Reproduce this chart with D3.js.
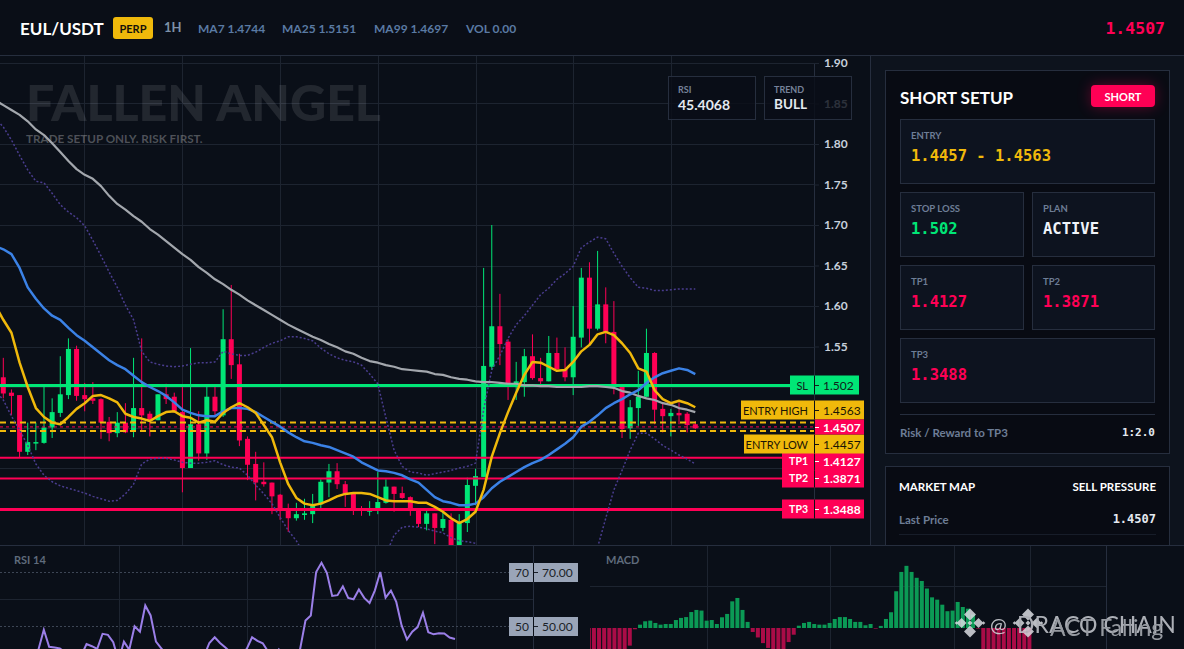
<!DOCTYPE html>
<html>
<head>
<meta charset="utf-8">
<script src="https://cdn.jsdelivr.net/npm/d3@7"></script>
<style>
    html, body { margin: 0; padding: 0; background: #0a0f18; overflow: hidden; }
    svg { display: block; font-family: Lato, "Noto Sans", sans-serif; }
    .mono { font-family: "DejaVu Sans Mono", monospace; font-weight: 700; }
</style>
</head>
<body>
<svg id="chart" width="1184" height="649"></svg>
<script>
const opens = [1.512,1.493,1.490,1.420,1.431,1.431,1.450,1.468,1.490,1.547,1.490,1.486,1.485,1.457,1.443,1.456,1.446,1.474,1.467,1.459,1.491,1.488,1.469,1.400,1.454,1.418,1.488,1.465,1.559,1.528,1.436,1.405,1.383,1.382,1.367,1.349,1.338,1.342,1.343,1.355,1.382,1.396,1.380,1.368,1.349,1.346,1.348,1.357,1.377,1.369,1.364,1.347,1.331,1.344,1.326,1.336,1.295,1.332,1.378,1.389,1.525,1.575,1.556,1.504,1.506,1.538,1.511,1.507,1.542,1.522,1.512,1.561,1.635,1.572,1.602,1.568,1.500,1.449,1.474,1.488,1.542,1.473,1.464,1.468,1.467,1.454];
const highs = [1.536,1.497,1.490,1.456,1.456,1.500,1.486,1.538,1.560,1.551,1.505,1.506,1.486,1.463,1.469,1.480,1.536,1.560,1.470,1.491,1.504,1.493,1.501,1.548,1.470,1.500,1.501,1.596,1.626,1.541,1.439,1.420,1.407,1.382,1.368,1.356,1.357,1.362,1.368,1.386,1.405,1.406,1.384,1.368,1.353,1.359,1.395,1.386,1.377,1.377,1.365,1.348,1.349,1.344,1.349,1.344,1.343,1.388,1.399,1.647,1.700,1.615,1.559,1.531,1.547,1.565,1.536,1.563,1.561,1.549,1.600,1.647,1.654,1.668,1.623,1.606,1.501,1.484,1.520,1.572,1.543,1.479,1.473,1.481,1.469,1.458];
const lows = [1.486,1.465,1.413,1.416,1.422,1.430,1.437,1.463,1.485,1.483,1.470,1.479,1.436,1.433,1.438,1.443,1.438,1.446,1.439,1.459,1.479,1.468,1.370,1.400,1.409,1.410,1.465,1.463,1.510,1.427,1.385,1.360,1.377,1.343,1.336,1.321,1.335,1.336,1.332,1.347,1.364,1.374,1.352,1.342,1.341,1.341,1.343,1.356,1.346,1.362,1.341,1.327,1.323,1.306,1.322,1.296,1.292,1.321,1.354,1.389,1.521,1.527,1.484,1.484,1.488,1.509,1.502,1.507,1.522,1.507,1.490,1.549,1.553,1.570,1.554,1.491,1.437,1.436,1.452,1.488,1.454,1.444,1.439,1.454,1.444,1.448];
const closes = [1.492,1.489,1.420,1.432,1.432,1.450,1.469,1.491,1.547,1.489,1.485,1.483,1.456,1.443,1.456,1.444,1.474,1.465,1.459,1.491,1.485,1.470,1.400,1.454,1.418,1.488,1.470,1.559,1.527,1.434,1.404,1.382,1.380,1.365,1.348,1.338,1.343,1.344,1.354,1.383,1.396,1.380,1.368,1.349,1.347,1.349,1.358,1.377,1.368,1.363,1.349,1.331,1.344,1.326,1.337,1.299,1.332,1.379,1.390,1.526,1.575,1.553,1.504,1.507,1.538,1.511,1.507,1.542,1.522,1.512,1.562,1.635,1.572,1.602,1.568,1.500,1.448,1.475,1.488,1.542,1.472,1.464,1.468,1.465,1.453,1.449];

// the indicator lists start one bar before the first candle, which is off screen
const ma7 = [1.601,1.583,1.567,1.530,1.500,1.474,1.463,1.456,1.454,1.463,1.473,1.480,1.489,1.490,1.486,1.481,1.467,1.463,1.461,1.458,1.464,1.469,1.470,1.464,1.462,1.456,1.459,1.457,1.468,1.475,1.480,1.475,1.468,1.453,1.438,1.407,1.380,1.363,1.356,1.354,1.356,1.360,1.365,1.368,1.369,1.369,1.368,1.364,1.360,1.359,1.359,1.359,1.357,1.357,1.352,1.346,1.338,1.332,1.337,1.346,1.373,1.414,1.443,1.469,1.493,1.515,1.531,1.530,1.525,1.520,1.521,1.531,1.544,1.552,1.565,1.568,1.564,1.554,1.542,1.523,1.519,1.496,1.485,1.480,1.483,1.480,1.475];
const ma25 = [1.674,1.670,1.664,1.647,1.623,1.609,1.597,1.588,1.583,1.573,1.564,1.557,1.549,1.541,1.533,1.527,1.522,1.514,1.506,1.500,1.495,1.489,1.481,1.472,1.468,1.465,1.464,1.464,1.470,1.474,1.474,1.473,1.469,1.463,1.457,1.451,1.444,1.438,1.433,1.431,1.428,1.426,1.422,1.418,1.414,1.407,1.402,1.397,1.396,1.394,1.391,1.386,1.382,1.373,1.364,1.359,1.357,1.354,1.354,1.356,1.364,1.375,1.383,1.389,1.395,1.401,1.406,1.410,1.416,1.423,1.430,1.438,1.451,1.457,1.465,1.474,1.480,1.485,1.491,1.496,1.505,1.512,1.517,1.520,1.523,1.521,1.516];
const ma99 = [1.854,1.848,1.842,1.836,1.828,1.818,1.811,1.801,1.790,1.779,1.769,1.762,1.757,1.748,1.736,1.726,1.719,1.711,1.704,1.695,1.688,1.680,1.672,1.664,1.657,1.648,1.641,1.633,1.627,1.620,1.614,1.607,1.601,1.595,1.589,1.583,1.577,1.572,1.567,1.562,1.558,1.553,1.549,1.544,1.541,1.536,1.532,1.530,1.527,1.525,1.522,1.521,1.520,1.519,1.516,1.515,1.512,1.510,1.509,1.507,1.506,1.506,1.505,1.504,1.504,1.502,1.502,1.501,1.501,1.500,1.500,1.500,1.500,1.501,1.501,1.500,1.499,1.495,1.493,1.489,1.486,1.484,1.480,1.478,1.474,1.472,1.469];
const bbUpper = [1.832,1.821,1.805,1.786,1.768,1.754,1.752,1.739,1.725,1.716,1.709,1.699,1.681,1.662,1.642,1.623,1.601,1.583,1.544,1.531,1.528,1.526,1.525,1.526,1.528,1.530,1.530,1.531,1.544,1.541,1.539,1.539,1.543,1.549,1.554,1.557,1.562,1.562,1.560,1.557,1.548,1.541,1.536,1.533,1.531,1.527,1.516,1.504,1.462,1.422,1.402,1.395,1.394,1.391,1.393,1.395,1.397,1.400,1.402,1.406,1.472,1.521,1.539,1.560,1.577,1.588,1.601,1.614,1.622,1.633,1.640,1.649,1.672,1.679,1.685,1.683,1.665,1.649,1.635,1.623,1.622,1.619,1.619,1.620,1.621,1.621,1.621];
const bbLower = [1.496,1.484,1.464,1.447,1.428,1.405,1.391,1.383,1.378,1.375,1.372,1.369,1.365,1.362,1.359,1.360,1.368,1.380,1.405,1.411,1.412,1.412,1.410,1.407,1.406,1.406,1.407,1.409,1.404,1.401,1.400,1.391,1.379,1.368,1.356,1.339,1.323,1.310,1.293,1.274,1.268,1.264,1.262,1.262,1.264,1.268,1.274,1.284,1.293,1.317,1.327,1.328,1.327,1.325,1.322,1.320,1.314,1.310,1.309,1.307,1.274,1.249,1.237,1.225,1.219,1.212,1.212,1.219,1.225,1.237,1.249,1.268,1.280,1.293,1.302,1.338,1.373,1.397,1.422,1.443,1.443,1.436,1.428,1.422,1.416,1.411,1.405];

const rsi = [39,38.5,39,39.5,39,38.5,39,41.5,48.8,42.5,42.2,41.9,40.4,39,38.5,39.2,43.5,42.7,41.7,47.3,46.9,44.2,37.3,44.4,41.4,50.1,48.1,57.8,54.1,44.4,41.9,39.5,39,38.5,38,38.5,39,38.8,39,43.9,46,43.9,42.2,40.4,39.5,40,41.7,46,44.7,43.8,40.7,39,41.5,38.5,38,38,41.7,52.2,54.1,70.2,73.6,69.9,61.3,61.6,64.9,60.6,60.1,63.7,60.6,58.7,63.4,70.2,60.7,63.3,59.1,50.4,45.2,48.1,49.8,55.1,47.9,47.1,47.5,47.4,45.9,45.4];
const macdHist = [-0.0111,-0.0111,-0.0111,-0.0111,-0.0111,-0.0111,-0.0111,-0.0111,-0.0084,-0.0006,0.0016,0.0032,0.0035,0.0024,0.0016,0.0019,0.0019,0.0038,0.0048,0.0052,0.0076,0.0086,0.0083,0.0035,0.0038,0.0019,0.0051,0.0067,0.0127,0.0143,0.0086,0.0029,-0.0019,-0.0045,-0.0072,-0.0095,-0.0111,-0.0111,-0.0111,-0.0067,-0.0032,0.0011,0.0024,0.0029,0.0019,0.0016,0.0016,0.0024,0.0043,0.0052,0.0052,0.0043,0.0029,0.0029,0.0013,0.0019,-0.0003,0.0010,0.0043,0.0075,0.0175,0.0267,0.0296,0.0267,0.0239,0.0224,0.0188,0.0146,0.0135,0.0111,0.0080,0.0083,0.0124,0.0100,0.0092,0.0064,-0.0003,-0.0111,-0.0111,-0.0111,-0.0111,-0.0111,-0.0111,-0.0111,-0.0111,-0.0111,-0.0111];

const priceGrid = [1.90,1.85,1.80,1.75,1.70,1.65,1.60,1.55,1.50,1.45,1.40,1.35];
const priceTicks = [1.90,1.85,1.80,1.75,1.70,1.65,1.60,1.55];
const rsiTicks = [80,60];
const macdTicks = [0.04,0.02,0];
const mainGridX = [84,182,280,378,476,573,671];
const rsiGridX = [119,247,375,456];
const macdGridX = [707,830,954,1030];

const GREEN = "#00e676", RED = "#ff0055", YELLOW = "#f0b90b", GRID = "#1d2430", BORDER = "#262e3e";

const svg = d3.select("#chart");
const defs = svg.append("defs");

function addClip(id, x, y, w, h) {
    defs.append("clipPath").attr("id", id).append("rect")
        .attr("x", x).attr("y", y).attr("width", w).attr("height", h);
}
addClip("mainClip", 0, 55, 814, 490);
addClip("rsiClip", 0, 546, 534, 103);
addClip("rsiAxisClip", 534, 546, 56, 103);
addClip("macdAxisClip", 1106, 546, 78, 103);
addClip("macdClip", 590, 546, 516, 103);

const glow = defs.append("filter").attr("id", "glow")
    .attr("x", "-50%").attr("y", "-80%").attr("width", "200%").attr("height", "260%");
glow.append("feGaussianBlur").attr("stdDeviation", 7);

const x = d3.scaleLinear().domain([0, 85]).range([3.3, 695.3]);
const y = d3.scaleLinear().domain([1.9, 1.35]).range([63, 508.5]);

function label(g, txt, px, py, size, fill, opts = {}) {
    return g.append("text")
        .attr("x", px).attr("y", py)
        .attr("font-size", size)
        .attr("fill", fill)
        .attr("font-weight", opts.weight || 400)
        .attr("text-anchor", opts.anchor || "start")
        .attr("dominant-baseline", "central")
        .attr("class", opts.mono ? "mono" : null)
        .text(txt);
}

function drawHeader() {
    const g = svg.append("g");
    g.append("rect").attr("width", 1184).attr("height", 55).attr("fill", "#0a0e17");
    g.append("line").attr("x1", 0).attr("x2", 1184).attr("y1", 55.5).attr("y2", 55.5).attr("stroke", BORDER);
    label(g, "EUL/USDT", 20, 28, 17, "#fff", {weight: 700});
    g.append("rect").attr("x", 113).attr("y", 17).attr("width", 40).attr("height", 22).attr("rx", 3).attr("fill", YELLOW);
    label(g, "PERP", 133, 28, 11, "#15110a", {anchor: "middle", weight: 700});
    label(g, "1H", 164, 27, 13, "#7d90a8", {weight: 700});
    [["MA7 1.4744", 198], ["MA25 1.5151", 282], ["MA99 1.4697", 374], ["VOL 0.00", 466]].forEach(d => {
        label(g, d[0], d[1], 28, 12, "#5a7aa3", {weight: 700});
    });
    label(g, "1.4507", 1165, 28, 16.5, RED, {anchor: "end", mono: true});
}

function drawMain() {
    const g = svg.append("g");
    g.append("rect").attr("x", 0).attr("y", 56).attr("width", 871).attr("height", 489).attr("fill", "#0a0f18");

    const grid = g.append("g").attr("stroke", GRID);
    grid.selectAll("line.h").data(priceGrid).join("line").attr("class", "h")
        .attr("x1", 0).attr("x2", 814).attr("y1", d => Math.round(y(d)) + 0.5).attr("y2", d => Math.round(y(d)) + 0.5);
    grid.selectAll("line.v").data(mainGridX).join("line").attr("class", "v")
        .attr("x1", d => d + 0.5).attr("x2", d => d + 0.5).attr("y1", 56).attr("y2", 545);

    label(g, "FALLEN ANGEL", 26, 102, 50, "rgba(255,255,255,0.1)", {weight: 900});
    label(g, "TRADE SETUP ONLY. RISK FIRST.", 26, 138, 11.7, "rgba(255,255,255,0.28)", {weight: 700});

    const plot = g.append("g").attr("clip-path", "url(#mainClip)");
    const idx = d3.range(opens.length);
    const color = i => closes[i] >= opens[i] ? GREEN : RED;

    plot.append("g").selectAll("line").data(idx).join("line")
        .attr("x1", i => x(i)).attr("x2", i => x(i))
        .attr("y1", i => y(highs[i])).attr("y2", i => y(lows[i]))
        .attr("stroke", color).attr("stroke-width", 1);
    plot.append("g").selectAll("rect").data(idx).join("rect")
        .attr("x", i => x(i) - 2.5).attr("width", 5)
        .attr("y", i => y(Math.max(opens[i], closes[i])))
        .attr("height", i => Math.max(1.5, Math.abs(y(opens[i]) - y(closes[i]))))
        .attr("fill", color);

    const levels = plot.append("g");
    const level = (v, x2, col, w, dash) => levels.append("line")
        .attr("x1", 0).attr("x2", x2).attr("y1", y(v)).attr("y2", y(v))
        .attr("stroke", col).attr("stroke-width", w).attr("stroke-dasharray", dash || null);
    level(1.502, 790, GREEN, 3);
    level(1.4127, 782, RED, 2);
    level(1.3871, 782, RED, 2);
    level(1.3488, 782, RED, 3);
    level(1.4563, 814, YELLOW, 2, "6 4");
    level(1.4457, 814, YELLOW, 2, "6 4");
    level(1.4507, 814, RED, 1, "3 3");

    const line = d3.line().x((d, i) => x(i - 1)).y(d => y(d));
    const drawLine = (data, col, w, dash) => plot.append("path").datum(data)
        .attr("fill", "none").attr("stroke", col).attr("stroke-width", w)
        .attr("stroke-dasharray", dash || null).attr("stroke-linejoin", "round").attr("d", line);
    drawLine(bbUpper, "#4a3d8f", 1.5, "2 2");
    drawLine(bbLower, "#4a3d8f", 1.5, "2 2");
    drawLine(ma99, "#a3a7ad", 2.2);
    drawLine(ma25, "#3b82e6", 2.5);
    drawLine(ma7, YELLOW, 2.5);

    // price axis
    const axis = g.append("g").attr("transform", "translate(814,0)")
        .call(d3.axisRight(y).tickValues(priceTicks).tickSize(5).tickPadding(5).tickFormat(d3.format(".2f")));
    axis.select(".domain").attr("stroke", BORDER);
    axis.selectAll(".tick line").attr("stroke", GRID);
    axis.selectAll(".tick text").attr("fill", "#c8d0dc").attr("font-size", 12).attr("font-weight", 700)
        .attr("font-family", "Lato, sans-serif");

    g.append("line").attr("x1", 870.5).attr("x2", 870.5).attr("y1", 56).attr("y2", 545).attr("stroke", BORDER);

    // small stat boxes
    [["RSI", "45.4068", 668], ["TREND", "BULL", 764]].forEach(d => {
        g.append("rect").attr("x", d[2] + 0.5).attr("y", 76.5).attr("width", 87).attr("height", 43)
            .attr("fill", "#0a0e17").attr("fill-opacity", 0.82).attr("stroke", BORDER);
        label(g, d[0], d[2] + 10, 89, 9, "#76829a", {weight: 700});
        label(g, d[1], d[2] + 10, 104, d[1] === "BULL" ? 13.5 : 14, "#e4e9f0", {weight: 700});
    });

    drawPriceLabels(g);
}

function drawPriceLabels(g) {
    // name, value, left edge, right edge, background, text colour, label centre offset
    const rows = [
        ["TP3", 1.3488, 782, 864, RED, "#fff", 0],
        ["TP2", 1.3871, 782, 864, RED, "#fff", 0],
        ["TP1", 1.4127, 782, 864, RED, "#fff", 3],
        ["SL", 1.502, 790, 859, GREEN, "#10201a", 0],
        ["ENTRY HIGH", 1.4563, 741, 864, YELLOW, "#1a1505", -12],
        ["ENTRY LOW", 1.4457, 744, 864, YELLOW, "#1a1505", 13],
        ["", 1.4507, 814, 864, RED, "#fff", 0]
    ];
    rows.forEach(r => {
        const cy = Math.round(y(r[1])) + r[6];
        const h = r[0] ? 19 : 15;
        const dark = r[5] !== "#fff";
        g.append("rect").attr("x", r[2]).attr("y", cy - h / 2).attr("width", r[3] - r[2]).attr("height", h).attr("fill", r[4]);
        g.append("line").attr("x1", 814.5).attr("x2", 814.5).attr("y1", cy - h / 2).attr("y2", cy + h / 2).attr("stroke", "#0a0f18");
        g.append("line").attr("x1", 815).attr("x2", 819).attr("y1", cy + 0.5).attr("y2", cy + 0.5).attr("stroke", r[5]);
        if (r[0]) label(g, r[0], 808, cy, dark ? 11 : 10.5, r[5], {anchor: "end", weight: dark ? 400 : 700});
        label(g, String(r[1]), 823, cy, 12, r[5], {weight: dark ? 400 : 700});
    });
}

function drawRsi() {
    const g = svg.append("g");
    g.append("rect").attr("x", 0).attr("y", 545).attr("width", 590).attr("height", 104).attr("fill", "#0a0f18");
    g.append("line").attr("x1", 0).attr("x2", 590).attr("y1", 545.5).attr("y2", 545.5).attr("stroke", BORDER);
    const rx = d3.scaleLinear().domain([0, 85]).range([1.1, 455]);
    const ry = d3.scaleLinear().domain([50, 70]).range([626.5, 572.5]);

    g.append("g").attr("stroke", GRID).selectAll("line").data(rsiGridX).join("line")
        .attr("x1", d => d + 0.5).attr("x2", d => d + 0.5).attr("y1", 546).attr("y2", 649);
    g.append("line").attr("x1", 0).attr("x2", 534).attr("y1", ry(60)).attr("y2", ry(60)).attr("stroke", GRID);
    [70, 50].forEach(v => {
        g.append("line").attr("x1", 0).attr("x2", 534).attr("y1", ry(v)).attr("y2", ry(v))
            .attr("stroke", "#3d4655").attr("stroke-dasharray", "2 2");
    });
    label(g, "RSI 14", 14, 559, 11, "#5f6b7c", {weight: 700});

    g.append("g").attr("clip-path", "url(#rsiClip)").append("path").datum(rsi)
        .attr("fill", "none").attr("stroke", "#9b7fe8").attr("stroke-width", 2)
        .attr("d", d3.line().x((d, i) => rx(i)).y(d => ry(d)));

    const axis = g.append("g").attr("transform", "translate(534,0)").attr("clip-path", "url(#rsiAxisClip)")
        .call(d3.axisRight(ry).tickValues(rsiTicks).tickSize(4).tickPadding(5).tickFormat(d3.format(".2f")));
    axis.select(".domain").remove();
    axis.selectAll(".tick line").attr("stroke", GRID);
    axis.selectAll(".tick text").attr("fill", "#c8d0dc").attr("font-size", 12).attr("font-weight", 700)
        .attr("font-family", "Lato, sans-serif");
    g.append("line").attr("x1", 533.5).attr("x2", 533.5).attr("y1", 546).attr("y2", 649).attr("stroke", BORDER);

    [70, 50].forEach(v => {
        const cy = ry(v);
        g.append("rect").attr("x", 509).attr("y", cy - 9.5).attr("width", 69).attr("height", 19).attr("fill", "#9aa5b8");
        g.append("line").attr("x1", 533.5).attr("x2", 533.5).attr("y1", cy - 9.5).attr("y2", cy + 9.5).attr("stroke", "#0a0f18");
        g.append("line").attr("x1", 534).attr("x2", 538).attr("y1", cy).attr("y2", cy).attr("stroke", "#1a1f28");
        label(g, String(v), 529, cy, 12, "#1a1f28", {anchor: "end"});
        label(g, v.toFixed(2), 542, cy, 12, "#1a1f28");
    });
}

function drawMacd() {
    const g = svg.append("g");
    g.append("rect").attr("x", 590).attr("y", 545).attr("width", 594).attr("height", 104).attr("fill", "#0a0f18");
    g.append("line").attr("x1", 590).attr("x2", 1184).attr("y1", 545.5).attr("y2", 545.5).attr("stroke", BORDER);
    const mx = d3.scaleLinear().domain([0, 86]).range([588.8, 1029.4]);
    const my = d3.scaleLinear().domain([0, 0.02]).range([628, 586]);

    g.append("g").attr("stroke", GRID).selectAll("line").data(macdGridX).join("line")
        .attr("x1", d => d + 0.5).attr("x2", d => d + 0.5).attr("y1", 546).attr("y2", 649);
    g.append("line").attr("x1", 590).attr("x2", 1106).attr("y1", 586.5).attr("y2", 586.5).attr("stroke", GRID);
    label(g, "MACD", 606, 559, 11, "#5f6b7c", {weight: 700});

    g.append("g").attr("clip-path", "url(#macdClip)").selectAll("rect").data(macdHist).join("rect")
        .attr("x", (d, i) => mx(i) - 2).attr("width", 4)
        .attr("y", d => Math.min(my(d), my(0)))
        .attr("height", d => Math.abs(my(d) - my(0)))
        .attr("fill", d => d >= 0 ? "#0b9a55" : "#aa0c47");

    const axis = g.append("g").attr("transform", "translate(1106,0)").attr("clip-path", "url(#macdAxisClip)")
        .call(d3.axisRight(my).tickValues(macdTicks).tickSize(4).tickPadding(5).tickFormat(d3.format(".4f")));
    axis.select(".domain").remove();
    axis.selectAll(".tick line").attr("stroke", GRID);
    axis.selectAll(".tick text").attr("fill", "#c8d0dc").attr("font-size", 12).attr("font-weight", 700)
        .attr("font-family", "Lato, sans-serif");
    g.append("line").attr("x1", 1106.5).attr("x2", 1106.5).attr("y1", 546).attr("y2", 649).attr("stroke", BORDER);
}

function card(g, x0, y0, w, h, fill) {
    g.append("rect").attr("x", x0 + 0.5).attr("y", y0 + 0.5).attr("width", w).attr("height", h)
        .attr("fill", fill).attr("stroke", BORDER);
}

function drawSidebar() {
    const g = svg.append("g");
    g.append("rect").attr("x", 871).attr("y", 56).attr("width", 313).attr("height", 489).attr("fill", "#0d131d");
    card(g, 885, 70, 284, 383, "#080b13");

    label(g, "SHORT SETUP", 900, 97, 17, "#fff", {weight: 700});
    g.append("rect").attr("x", 1091).attr("y", 85).attr("width", 64).attr("height", 22).attr("rx", 4)
        .attr("fill", RED).attr("opacity", 0.35).attr("filter", "url(#glow)");
    g.append("rect").attr("x", 1091).attr("y", 85).attr("width", 64).attr("height", 22).attr("rx", 4).attr("fill", RED);
    label(g, "SHORT", 1123, 96, 11, "#fff", {anchor: "middle", weight: 700});

    const cells = [
        ["ENTRY", "1.4457 - 1.4563", 900, 119, 254, YELLOW],
        ["STOP LOSS", "1.502", 900, 192, 123, GREEN],
        ["PLAN", "ACTIVE", 1032, 192, 122, "#f0f4fa"],
        ["TP1", "1.4127", 900, 265, 123, RED],
        ["TP2", "1.3871", 1032, 265, 122, RED],
        ["TP3", "1.3488", 900, 338, 254, RED]
    ];
    cells.forEach(c => {
        card(g, c[2], c[3], c[4], 64, "#0d131f");
        label(g, c[0], c[2] + 11, c[3] + 16, 9.5, "#6d7d96", {weight: 700});
        label(g, c[1], c[2] + 11, c[3] + 37, 15.5, c[5], {mono: true});
    });

    g.append("line").attr("x1", 900).attr("x2", 1155).attr("y1", 414.5).attr("y2", 414.5).attr("stroke", BORDER);
    label(g, "Risk / Reward to TP3", 900, 432, 11.5, "#6d7d96", {weight: 700});
    label(g, "1:2.0", 1155, 432, 11, "#e4e9f0", {anchor: "end", mono: true});

    card(g, 885, 466, 284, 90, "#080b13");
    label(g, "MARKET MAP", 899, 486, 11.5, "#fff", {weight: 700});
    label(g, "SELL PRESSURE", 1156, 486, 11.5, "#fff", {anchor: "end", weight: 700});
    label(g, "Last Price", 899, 519, 11.5, "#6d7d96", {weight: 700});
    label(g, "1.4507", 1156, 519, 12, "#e4e9f0", {anchor: "end", mono: true});
    g.append("line").attr("x1", 899).attr("x2", 1156).attr("y1", 534.5).attr("y2", 534.5).attr("stroke", "#171d29");
}

function logo(g, cx, cy) {
    const d = (px, py, r) => g.append("path")
        .attr("transform", `translate(${cx + px},${cy + py})`)
        .attr("d", `M0,${-r}L${r},0L0,${r}L${-r},0Z`)
        .attr("fill", "#d9dce1");
    d(0, -8.5, 6); d(8.5, 0, 5); d(0, 8.5, 6); d(-8.5, 0, 5);
    d(0, 0, 2.5); d(-13.5, 0, 1.8); d(13.5, 0, 1.8);
}

function drawWatermark() {
    const g = svg.append("g").attr("opacity", 0.85);
    logo(g, 970, 623);
    logo(g, 1028, 623);
    label(g, "@", 990, 624, 20, "#d9dce1");
    label(g, "DRACO CHAIN", 1017, 624, 23, "#c9ccd2");
    label(g, "ACT Falling", 1050, 627, 23, "#aeb2b8");
}

drawHeader();
drawMain();
drawSidebar();
drawRsi();
drawMacd();
drawWatermark();
</script>
</body>
</html>
